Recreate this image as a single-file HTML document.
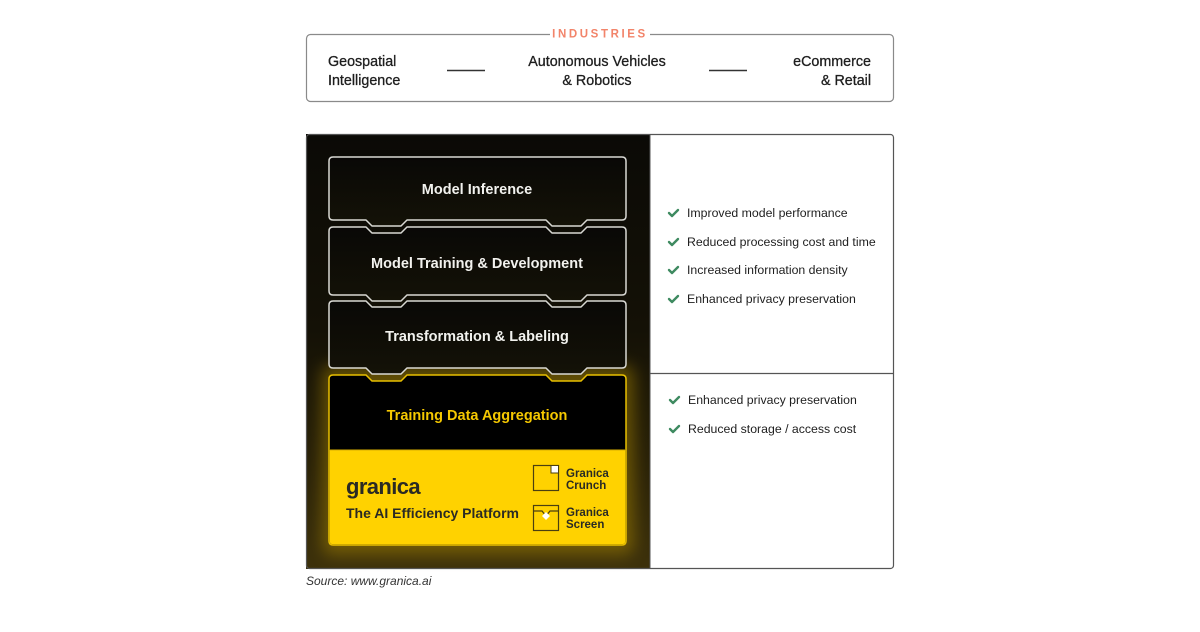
<!DOCTYPE html>
<html><head><meta charset="utf-8"><style>
html,body{margin:0;padding:0;background:#fff;}
body{width:1200px;height:627px;overflow:hidden;font-family:"Liberation Sans",sans-serif;}
</style></head><body>
<svg width="1200" height="627" viewBox="0 0 1200 627" xmlns="http://www.w3.org/2000/svg" font-family="Liberation Sans, sans-serif">
<defs>
<linearGradient id="dk" x1="0" y1="0" x2="0" y2="1">
<stop offset="0" stop-color="#0b0a06"/>
<stop offset="0.45" stop-color="#141106"/>
<stop offset="0.75" stop-color="#292108"/>
<stop offset="1" stop-color="#3d310b"/>
</linearGradient>
<linearGradient id="bk" x1="0" y1="0" x2="0" y2="1">
<stop offset="0" stop-color="#090806"/>
<stop offset="1" stop-color="#141207"/>
</linearGradient>
<filter id="glow" x="-20%" y="-20%" width="140%" height="140%"><feGaussianBlur stdDeviation="8"/></filter>
</defs>

<rect x="306.5" y="34.5" width="587" height="67" rx="4" fill="#fff" stroke="#8a8a8a" stroke-width="1.2"/>
<rect x="550" y="26" width="100" height="14" fill="#fff"/>
<text x="600" y="37.5" text-anchor="middle" font-size="11.5" font-weight="bold" fill="#f2846a" letter-spacing="2.6">INDUSTRIES</text>
<g font-size="14.3" fill="#1e1e1e" stroke="#1e1e1e" stroke-width="0.3">
<text x="328" y="66">Geospatial</text>
<text x="328" y="85">Intelligence</text>
<text x="597" y="66" text-anchor="middle">Autonomous Vehicles</text>
<text x="597" y="85" text-anchor="middle">&amp; Robotics</text>
<text x="871" y="66" text-anchor="end">eCommerce</text>
<text x="871" y="85" text-anchor="end">&amp; Retail</text>
</g>
<line x1="447" y1="70.5" x2="485" y2="70.5" stroke="#333" stroke-width="1.5"/>
<line x1="709" y1="70.5" x2="747" y2="70.5" stroke="#333" stroke-width="1.5"/>

<rect x="306" y="134" width="344" height="435" fill="url(#dk)"/>
<rect x="306.5" y="134.5" width="587" height="434" rx="3" fill="none" stroke="#555" stroke-width="1.2"/>
<line x1="650" y1="134" x2="650" y2="569" stroke="#555" stroke-width="1"/>
<line x1="650" y1="373.5" x2="893" y2="373.5" stroke="#555" stroke-width="1.2"/>

<rect x="322" y="365" width="312" height="190" rx="10" fill="#c9a000" opacity="0.4" filter="url(#glow)"/>

<g stroke="#d9d9d4" stroke-width="1.5" stroke-linejoin="round">
<path d="M333,157 L622,157 Q626,157 626,161 L626,216 Q626,220 622,220 L587,220 L581,226 L552,226 L546,220 L407,220 L401,226 L372,226 L366,220 L333,220 Q329,220 329,216 L329,161 Q329,157 333,157 Z" fill="url(#bk)"/>
<path d="M333,227 L366,227 L372,233 L401,233 L407,227 L546,227 L552,233 L581,233 L587,227 L622,227 Q626,227 626,231 L626,291 Q626,295 622,295 L587,295 L581,301 L552,301 L546,295 L407,295 L401,301 L372,301 L366,295 L333,295 Q329,295 329,291 L329,231 Q329,227 333,227 Z" fill="url(#bk)"/>
<path d="M333,301 L366,301 L372,307 L401,307 L407,301 L546,301 L552,307 L581,307 L587,301 L622,301 Q626,301 626,305 L626,364 Q626,368 622,368 L587,368 L581,374 L552,374 L546,368 L407,368 L401,374 L372,374 L366,368 L333,368 Q329,368 329,364 L329,305 Q329,301 333,301 Z" fill="url(#bk)"/>
</g>
<path d="M333,375 L366,375 L372,381 L401,381 L407,375 L546,375 L552,381 L581,381 L587,375 L622,375 Q626,375 626,379 L626,541 Q626,545 622,545 L333,545 Q329,545 329,541 L329,379 Q329,375 333,375 Z" fill="#000" stroke="#e8bf00" stroke-width="1.5"/>
<path d="M329.75,450 L625.25,450 L625.25,541 Q625.25,544.25 622,544.25 L333,544.25 Q329.75,544.25 329.75,541 Z" fill="#ffd200"/>
<line x1="330" y1="450" x2="625" y2="450" stroke="#d9ae00" stroke-width="1"/>

<g font-size="14.5" font-weight="bold" fill="#f2f2ee" text-anchor="middle">
<text x="477" y="194">Model Inference</text>
<text x="477" y="268">Model Training &amp; Development</text>
<text x="477" y="341">Transformation &amp; Labeling</text>
<text x="477" y="420" fill="#f5c800">Training Data Aggregation</text>
</g>

<text x="346" y="494" font-size="22" font-weight="bold" fill="#2a2a24" letter-spacing="-0.6">granica</text>
<text x="346" y="518" font-size="14" font-weight="bold" fill="#2a2a24">The AI Efficiency Platform</text>

<g fill="none" stroke="#4a3f10" stroke-width="1.2">
<rect x="533.5" y="465.5" width="25" height="25"/>
<rect x="533.5" y="505.5" width="25" height="25"/>
<path d="M533.5,511 L542,511 L546,516 L550,511 L558.5,511"/>
</g>
<rect x="551" y="465.5" width="7.5" height="7.5" fill="#fff" stroke="#4a3f10" stroke-width="1"/>
<path d="M546,512 L550,516 L546,520 L542,516 Z" fill="#fff"/>
<g font-size="11.5" font-weight="bold" fill="#2a2a24">
<text x="566" y="477">Granica</text>
<text x="566" y="489">Crunch</text>
<text x="566" y="516">Granica</text>
<text x="566" y="528">Screen</text>
</g>

<g stroke="#3e8a60" stroke-width="2.4" fill="none" stroke-linecap="round" stroke-linejoin="round">
<path d="M669,213 L672,216 L678,210"/>
<path d="M669,242 L672,245 L678,239"/>
<path d="M669,270 L672,273 L678,267"/>
<path d="M669,299 L672,302 L678,296"/>
<path d="M670,400 L673,403 L679,397"/>
<path d="M670,429 L673,432 L679,426"/>
</g>
<g font-size="12.3" fill="#1e1e1e">
<text x="687" y="217">Improved model performance</text>
<text x="687" y="246">Reduced processing cost and time</text>
<text x="687" y="274">Increased information density</text>
<text x="687" y="303">Enhanced privacy preservation</text>
<text x="688" y="404">Enhanced privacy preservation</text>
<text x="688" y="433">Reduced storage / access cost</text>
</g>

<text x="306" y="585" font-size="12" font-style="italic" fill="#333">Source: www.granica.ai</text>
</svg>
</body></html>
